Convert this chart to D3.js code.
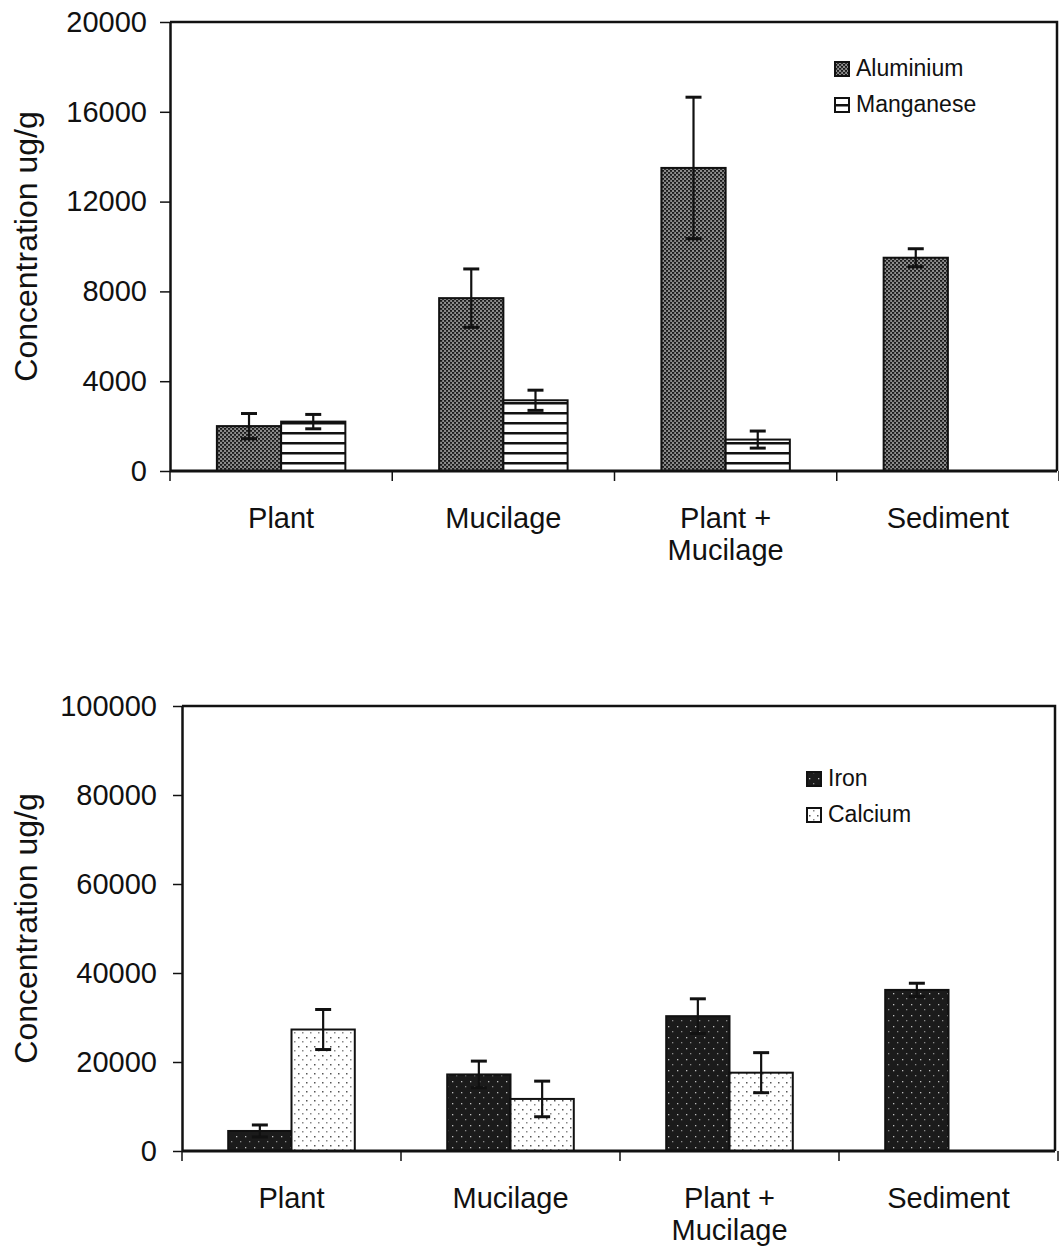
<!DOCTYPE html>
<html>
<head>
<meta charset="utf-8">
<script src="https://cdn.jsdelivr.net/npm/d3@7"></script>
<style>
  body { margin: 0; background: #ffffff; }
  svg { display: block; font-family: 'Liberation Sans', Arial, sans-serif; }
</style>
</head>
<body>
<div id="chart"></div>
<script>
const categories = ['Plant', 'Mucilage', 'Plant + Mucilage', 'Sediment'];
const categoryLabels = [['Plant'], ['Mucilage'], ['Plant +', 'Mucilage'], ['Sediment']];

// top panel
const aluminium = [2000, 7700, 13500, 9500];
const aluminiumError = [560, 1300, 3150, 400];
const manganese = [2200, 3150, 1400, null];
const manganeseError = [320, 450, 380, null];
const topTicks = [0, 4000, 8000, 12000, 16000, 20000];

// bottom panel
const iron = [4500, 17200, 30300, 36200];
const ironError = [1350, 3000, 3900, 1500];
const calcium = [27300, 11700, 17600, null];
const calciumError = [4500, 4000, 4500, null];
const bottomTicks = [0, 20000, 40000, 60000, 80000, 100000];

const svg = d3
  .select('#chart')
  .append('svg')
  .attr('width', 1059)
  .attr('height', 1256);

// fill patterns (scanned print look)
const defs = svg.append('defs');

const alPat = defs
  .append('pattern')
  .attr('id', 'pat-al')
  .attr('patternUnits', 'userSpaceOnUse')
  .attr('width', 4)
  .attr('height', 4);
alPat.append('rect').attr('width', 4).attr('height', 4).attr('fill', '#8c8c8c');
alPat.append('rect').attr('x', 0).attr('y', 0).attr('width', 2.2).attr('height', 1.8).attr('fill', '#1a1a1a');
alPat.append('rect').attr('x', 2).attr('y', 2).attr('width', 2.2).attr('height', 1.8).attr('fill', '#1a1a1a');

const mnPat = defs
  .append('pattern')
  .attr('id', 'pat-mn')
  .attr('patternUnits', 'userSpaceOnUse')
  .attr('y', 2)
  .attr('width', 10)
  .attr('height', 10);
mnPat.append('rect').attr('width', 10).attr('height', 10).attr('fill', '#ffffff');
mnPat.append('rect').attr('y', 0).attr('width', 10).attr('height', 2.5).attr('fill', '#111111');

const fePat = defs
  .append('pattern')
  .attr('id', 'pat-fe')
  .attr('patternUnits', 'userSpaceOnUse')
  .attr('width', 9)
  .attr('height', 11);
fePat.append('rect').attr('width', 9).attr('height', 11).attr('fill', '#1b1b1b');
fePat.append('rect').attr('x', 2).attr('y', 3).attr('width', 1.3).attr('height', 1.3).attr('fill', '#bdbdbd');
fePat.append('rect').attr('x', 6).attr('y', 8).attr('width', 1.3).attr('height', 1.3).attr('fill', '#8a8a8a');

const caPat = defs
  .append('pattern')
  .attr('id', 'pat-ca')
  .attr('patternUnits', 'userSpaceOnUse')
  .attr('width', 8)
  .attr('height', 9);
caPat.append('rect').attr('width', 8).attr('height', 9).attr('fill', '#ffffff');
caPat.append('rect').attr('x', 2).attr('y', 2).attr('width', 1.5).attr('height', 1.5).attr('fill', '#555555');
caPat.append('rect').attr('x', 6).attr('y', 6).attr('width', 1.5).attr('height', 1.5).attr('fill', '#888888');

const drawPanel = (cfg) => {
  const xScale = d3.scaleBand().domain(categories).range([cfg.left, cfg.right]);
  const inner = d3
    .scaleBand()
    .domain(cfg.series.map((s) => s.name))
    .range([0, xScale.bandwidth()])
    .paddingOuter(0.73);
  const yScale = d3.scaleLinear().domain(cfg.domain).range([cfg.bottom, cfg.top]);

  const g = svg.append('g');

  // frame: top and right border
  g.append('path')
    .attr('d', `M${cfg.left},${cfg.top}H${cfg.frameRight}V${cfg.bottom}`)
    .attr('fill', 'none')
    .attr('stroke', '#111')
    .attr('stroke-width', 2.5);

  // bars
  cfg.series.forEach((s) => {
    const rows = categories
      .map((c, i) => ({ c, v: s.values[i], e: s.errors[i] }))
      .filter((d) => d.v != null);

    g.append('g')
      .selectAll('rect')
      .data(rows)
      .join('rect')
      .attr('x', (d) => xScale(d.c) + inner(s.name))
      .attr('y', (d) => yScale(d.v))
      .attr('width', inner.bandwidth())
      .attr('height', (d) => yScale(0) - yScale(d.v))
      .attr('fill', s.fill)
      .attr('stroke', '#111')
      .attr('stroke-width', 2);

    const err = g.append('g').attr('stroke', '#111');
    const cx = (d) => xScale(d.c) + inner(s.name) + inner.bandwidth() / 2;
    err.selectAll('line.stem')
      .data(rows)
      .join('line')
      .attr('class', 'stem')
      .attr('x1', cx)
      .attr('x2', cx)
      .attr('y1', (d) => yScale(d.v + d.e))
      .attr('y2', (d) => yScale(d.v - d.e))
      .attr('stroke-width', 2.2);
    err.selectAll('line.cap-hi')
      .data(rows)
      .join('line')
      .attr('class', 'cap-hi')
      .attr('x1', (d) => cx(d) - 8)
      .attr('x2', (d) => cx(d) + 8)
      .attr('y1', (d) => yScale(d.v + d.e))
      .attr('y2', (d) => yScale(d.v + d.e))
      .attr('stroke-width', 3);
    err.selectAll('line.cap-lo')
      .data(rows)
      .join('line')
      .attr('class', 'cap-lo')
      .attr('x1', (d) => cx(d) - 8)
      .attr('x2', (d) => cx(d) + 8)
      .attr('y1', (d) => yScale(d.v - d.e))
      .attr('y2', (d) => yScale(d.v - d.e))
      .attr('stroke-width', 3);
  });

  // y axis
  g.append('g')
    .attr('transform', `translate(${cfg.left},0)`)
    .call(
      d3.axisLeft(yScale)
        .tickValues(cfg.ticks)
        .tickFormat(d3.format('d'))
        .tickSize(cfg.tickSize)
        .tickPadding(cfg.tickPadding)
        .tickSizeOuter(0)
    )
    .call((a) => a.select('.domain').attr('stroke', '#111').attr('stroke-width', 2.5))
    .call((a) => a.selectAll('.tick line').attr('stroke', '#111').attr('stroke-width', 1.5))
    .call((a) =>
      a.selectAll('.tick text')
        .attr('fill', '#111')
        .style('font-size', '29px')
        .style('font-family', "'Liberation Sans', Arial, sans-serif")
    );

  // x axis (labels at band centres, ticks at band edges)
  const xAxis = g.append('g')
    .attr('transform', `translate(0,${cfg.bottom})`)
    .call(d3.axisBottom(xScale).tickSize(0).tickSizeOuter(0).tickFormat(() => ''));
  xAxis.select('.domain')
    .attr('d', `M${cfg.left},0H${cfg.frameRight}`)
    .attr('stroke', '#111')
    .attr('stroke-width', 3);
  xAxis.selectAll('.tick text')
    .attr('y', 57)
    .attr('dy', 0)
    .attr('fill', '#111')
    .style('font-size', '29px')
    .style('font-family', "'Liberation Sans', Arial, sans-serif")
    .each(function (d, i) {
      d3.select(this)
        .selectAll('tspan')
        .data(categoryLabels[i])
        .join('tspan')
        .attr('x', 0)
        .attr('dy', (t, j) => (j === 0 ? 0 : 32))
        .text((t) => t);
    });
  g.append('g')
    .selectAll('line')
    .data(categories.map((c) => xScale(c)).concat([cfg.right]))
    .join('line')
    .attr('x1', (x) => x)
    .attr('x2', (x) => x)
    .attr('y1', cfg.bottom)
    .attr('y2', cfg.bottom + 10)
    .attr('stroke', '#111')
    .attr('stroke-width', 1.5);

  // y axis title
  g.append('text')
    .attr('transform', `translate(37,${(cfg.top + cfg.bottom) / 2}) rotate(-90)`)
    .attr('text-anchor', 'middle')
    .attr('fill', '#111')
    .style('font-size', '32px')
    .text('Concentration ug/g');

  // legend
  const legend = g.append('g')
    .attr('transform', `translate(${cfg.legend.x},${cfg.legend.y})`);
  cfg.series.forEach((s, i) => {
    const row = legend.append('g').attr('transform', `translate(0,${i * 36})`);
    row.append('rect')
      .attr('x', 0)
      .attr('y', -14)
      .attr('width', 14)
      .attr('height', 14)
      .attr('fill', s.fill)
      .attr('stroke', '#111')
      .attr('stroke-width', 2);
    row.append('text')
      .attr('x', 21)
      .attr('y', 0)
      .attr('fill', '#111')
      .style('font-size', '23px')
      .text(s.name);
  });
};

drawPanel({
  left: 170,
  right: 1059,
  frameRight: 1057,
  top: 22,
  bottom: 471,
  domain: [0, 20000],
  ticks: topTicks,
  tickSize: 10,
  tickPadding: 13,
  legend: { x: 835, y: 76 },
  series: [
    { name: 'Aluminium', values: aluminium, errors: aluminiumError, fill: 'url(#pat-al)' },
    { name: 'Manganese', values: manganese, errors: manganeseError, fill: 'url(#pat-mn)' },
  ],
});

drawPanel({
  left: 182,
  right: 1058,
  frameRight: 1055,
  top: 706,
  bottom: 1151,
  domain: [0, 100000],
  ticks: bottomTicks,
  tickSize: 9,
  tickPadding: 16,
  legend: { x: 807, y: 786 },
  series: [
    { name: 'Iron', values: iron, errors: ironError, fill: 'url(#pat-fe)' },
    { name: 'Calcium', values: calcium, errors: calciumError, fill: 'url(#pat-ca)' },
  ],
});
</script>
</body>
</html>
